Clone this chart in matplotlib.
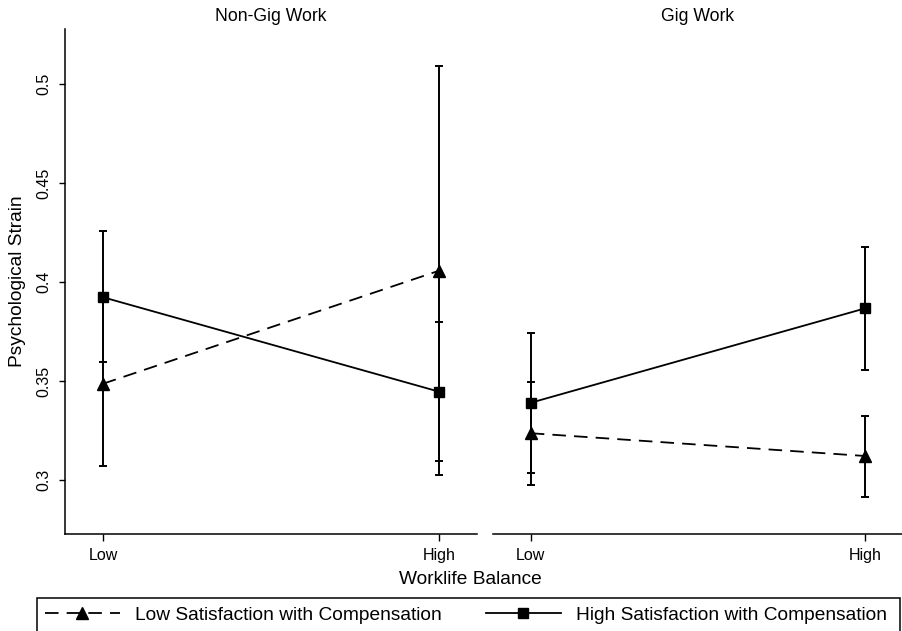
import matplotlib
matplotlib.use("Agg")
import matplotlib.pyplot as plt
from matplotlib.patches import Rectangle
from matplotlib.lines import Line2D

plt.rcParams["font.family"] = ["Liberation Sans", "DejaVu Sans"]

panels = ["Non-Gig Work", "Gig Work"]
levels = ["Low", "High"]
series = ["Low Satisfaction with Compensation", "High Satisfaction with Compensation"]

# point estimates [panel][series] -> (Low, High)
means = {
    "Non-Gig Work": {"low_sat": [0.3486, 0.4057], "high_sat": [0.3923, 0.3446]},
    "Gig Work": {"low_sat": [0.3236, 0.3121], "high_sat": [0.3390, 0.3867]},
}
# upper / lower confidence limits
upper = {
    "Non-Gig Work": {"low_sat": [0.3900, 0.5089], "high_sat": [0.4259, 0.3798]},
    "Gig Work": {"low_sat": [0.3493, 0.3322], "high_sat": [0.3744, 0.4177]},
}
lower = {
    "Non-Gig Work": {"low_sat": [0.3072, 0.3024], "high_sat": [0.3595, 0.3094]},
    "Gig Work": {"low_sat": [0.2975, 0.2916], "high_sat": [0.3035, 0.3557]},
}

yticks = [0.3, 0.35, 0.4, 0.45, 0.5]
ytick_labels = ["0.3", "0.35", "0.4", "0.45", "0.5"]

W, H = 903, 631
fig = plt.figure(figsize=(W / 100, H / 100), dpi=100)

ax_left = fig.add_axes([65 / W, 1 - 534 / H, 412 / W, 505 / H])
ax_right = fig.add_axes([493 / W, 1 - 534 / H, 410 / W, 505 / H])

dash = (0, (7.5, 4.5))
styles = {
    "low_sat": dict(ls=dash, marker="^"),
    "high_sat": dict(ls="-", marker="s"),
}

x = [0, 1]
for ax, panel in zip([ax_left, ax_right], panels):
    for key in ["low_sat", "high_sat"]:
        m = means[panel][key]
        up = upper[panel][key]
        lo = lower[panel][key]
        yerr = [[mi - l for mi, l in zip(m, lo)], [u - mi for mi, u in zip(m, up)]]
        ax.errorbar(x, m, yerr=yerr, fmt="none", ecolor="black", elinewidth=1.4,
                    capsize=3.0, capthick=1.4, zorder=2)
        ax.plot(x, m, color="black", lw=1.3, linestyle=styles[key]["ls"], zorder=3)
        ax.plot(x, m, color="black", lw=0, marker=styles[key]["marker"],
                markersize=8 if key == "low_sat" else 7.5, zorder=4)
    ax.set_xlim(-0.113, 1.113)
    ax.set_ylim(0.2727, 0.5278)
    ax.set_xticks(x)
    ax.set_xticklabels(levels, fontsize=11.5)
    ax.tick_params(axis="x", length=5, width=1, pad=5)
    ax.set_title(panel, fontsize=12.7, pad=6)
    ax.spines["top"].set_visible(False)
    ax.spines["right"].set_visible(False)
    for sp in ax.spines.values():
        sp.set_linewidth(1.1)

ax_left.set_yticks(yticks)
ax_left.set_yticklabels(ytick_labels, fontsize=11.5, rotation=90, va="center")
ax_left.tick_params(axis="y", length=4, width=1, pad=5.5)
ax_left.set_ylabel("Psychological Strain", fontsize=13.8, labelpad=8)

ax_right.spines["left"].set_visible(False)
ax_right.set_yticks([])

fig.text(470 / W, 1 - 580 / H, "Worklife Balance", fontsize=13.8, ha="center", va="center")

handles = [
    Line2D([], [], color="black", lw=1.3, linestyle=dash, marker="^", markersize=8),
    Line2D([], [], color="black", lw=1.3, linestyle="-", marker="s", markersize=7.5),
]
fig.legend(handles, series, loc="center left", bbox_to_anchor=(45 / W, 1 - 615 / H),
           ncol=2, frameon=False, fontsize=13.8, borderpad=0, borderaxespad=0,
           handlelength=3.9, handletextpad=0.8, columnspacing=2.3, numpoints=1)

frame = Rectangle((37 / W, -0.1), (900 - 37) / W, 0.1 + (1 - 598 / H),
                  transform=fig.transFigure, fill=False, ec="black", lw=1.1)
fig.add_artist(frame)

fig.savefig("out.png", dpi=100)
